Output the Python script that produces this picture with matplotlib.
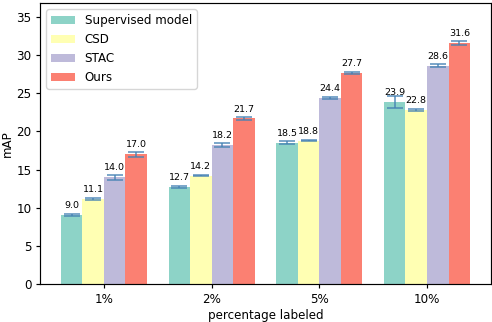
import matplotlib
matplotlib.use("Agg")
import matplotlib.pyplot as plt
import numpy as np

groups = ["1%", "2%", "5%", "10%"]
methods = ["Supervised model", "CSD", "STAC", "Ours"]
supervised = [9.0, 12.7, 18.5, 23.9]
csd = [11.1, 14.2, 18.8, 22.8]
stac = [14.0, 18.2, 24.4, 28.6]
ours = [17.0, 21.7, 27.7, 31.6]
err_supervised = [0.15, 0.15, 0.2, 0.8]
err_csd = [0.15, 0.1, 0.12, 0.12]
err_stac = [0.35, 0.3, 0.12, 0.2]
err_ours = [0.35, 0.25, 0.15, 0.25]
colors = ["#8dd3c7", "#ffffb3", "#bebada", "#fb8072"]

values = [supervised, csd, stac, ours]
errors = [err_supervised, err_csd, err_stac, err_ours]

plt.rcParams["font.size"] = 8.6
plt.rcParams["axes.linewidth"] = 0.85
plt.rcParams["xtick.major.width"] = 0.85
plt.rcParams["ytick.major.width"] = 0.85
plt.rcParams["xtick.major.size"] = 3
plt.rcParams["ytick.major.size"] = 3

fig, ax = plt.subplots(figsize=(4.92, 3.22), dpi=100)
x = np.arange(len(groups))
w = 0.2
for i, (vals, errs, c, m) in enumerate(zip(values, errors, colors, methods)):
    pos = x + (i - 1.5) * w
    ax.bar(pos, vals, w, color=c, label=m)
    ax.errorbar(pos, vals, yerr=errs, fmt="none", ecolor="#4682b4",
                capsize=6, elinewidth=1.1, capthick=1.1, alpha=0.9)
    for p, v in zip(pos, vals):
        ax.annotate(f"{v:.1f}", (p, v), xytext=(0, 3.5), textcoords="offset points",
                    ha="center", va="bottom", fontsize=6.8)

ax.set_xticks(x)
ax.set_xticklabels(groups)
ax.set_ylim(0, 36.8)
ax.set_ylabel("mAP", labelpad=2)
ax.set_xlabel("percentage labeled", labelpad=2)
ax.legend(loc="upper left")
fig.subplots_adjust(left=0.082, right=0.997, top=0.99, bottom=0.118)
fig.savefig("out.png", dpi=100)
